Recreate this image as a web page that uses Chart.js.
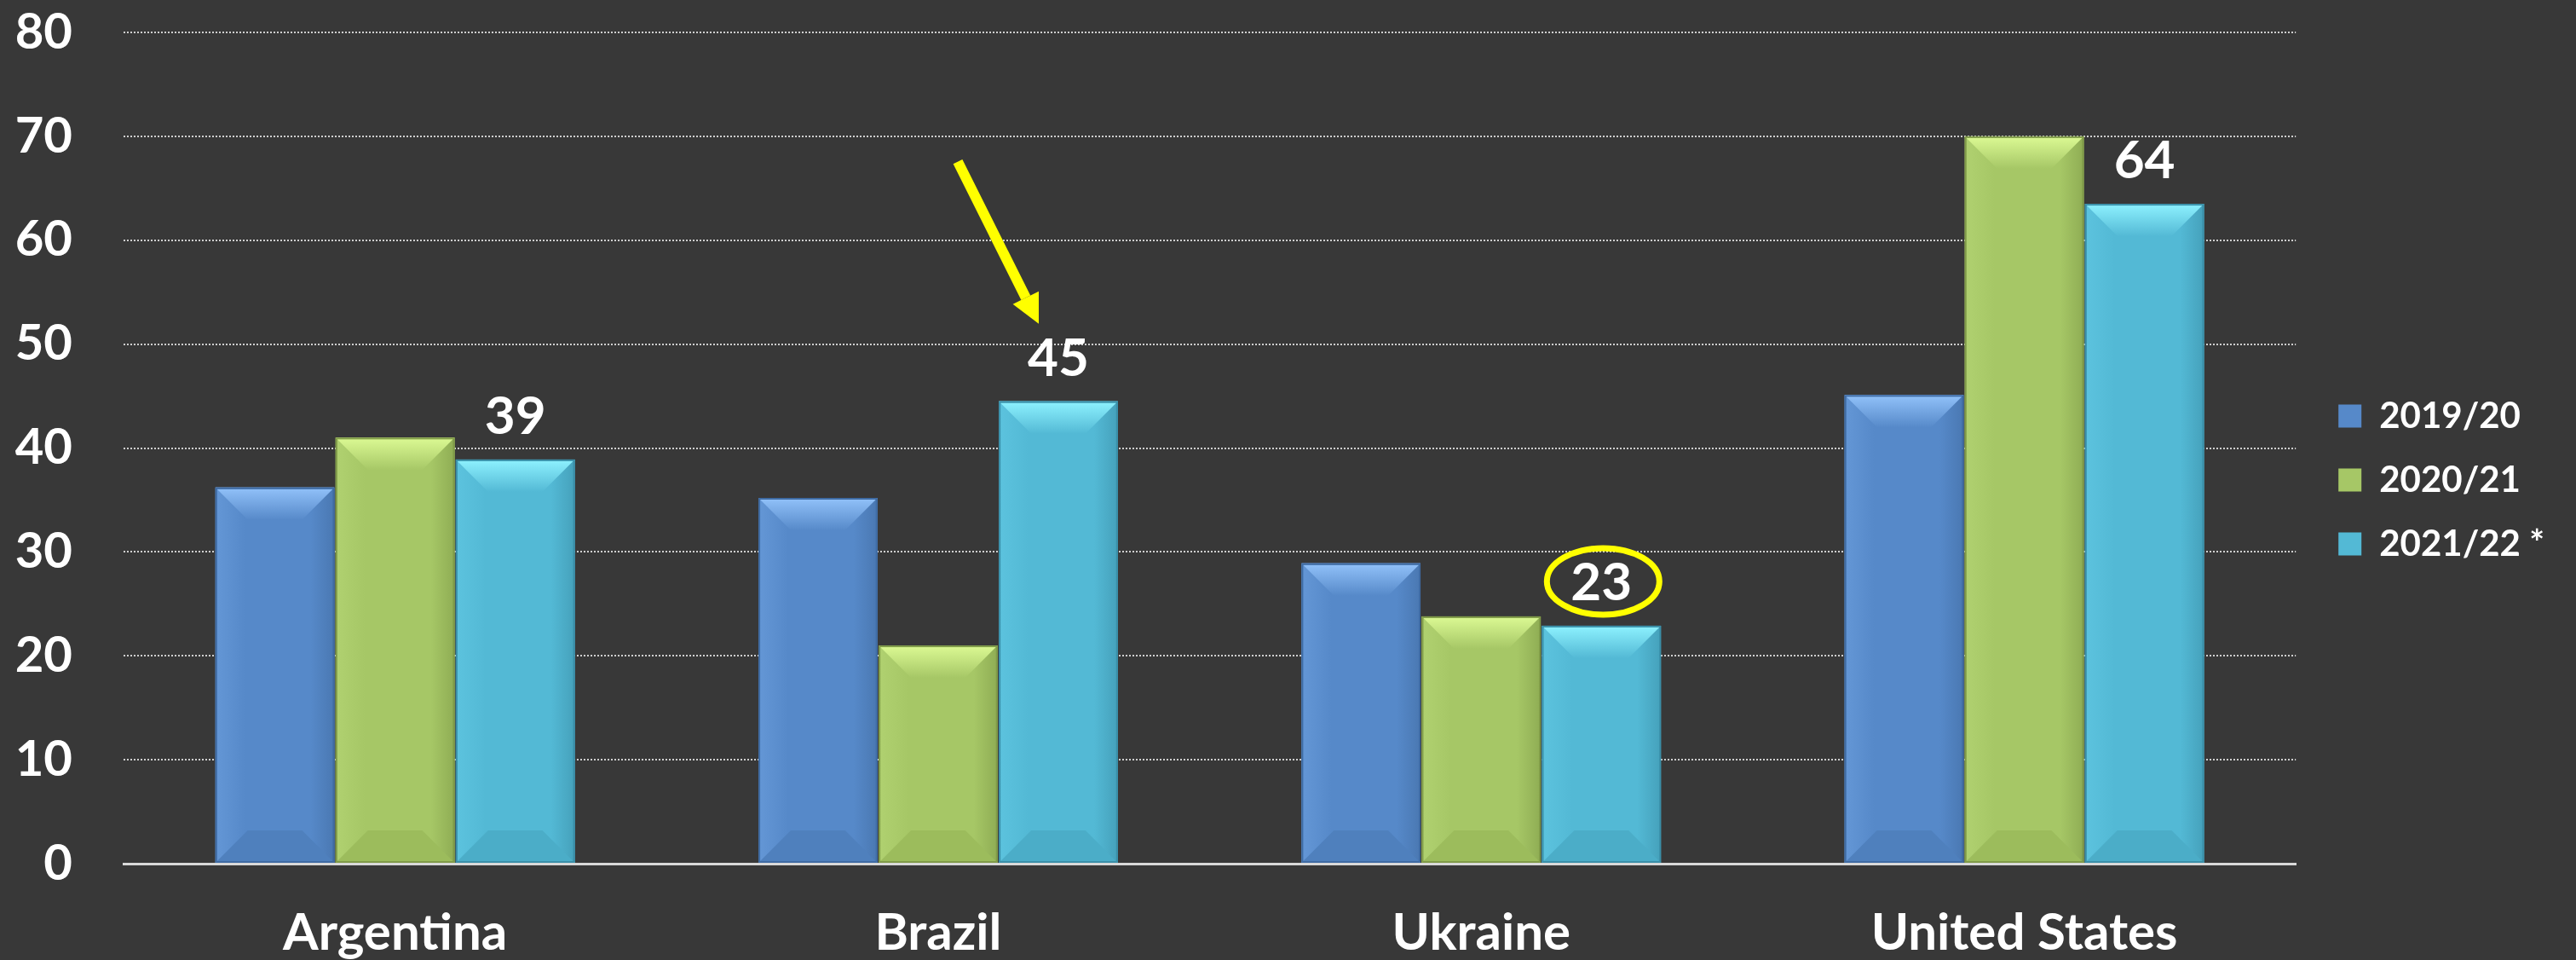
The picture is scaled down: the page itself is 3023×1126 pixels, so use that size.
<!DOCTYPE html>
<html>
<head>
<meta charset="utf-8">
<script src="https://cdn.jsdelivr.net/npm/chart.js@4.4.1/dist/chart.umd.min.js"></script>
<style>
  html, body { margin: 0; padding: 0; background: #383838; }
  canvas { display: block; }
</style>
</head>
<body>
<canvas id="chart-bars" width="3023" height="1126"></canvas>
<script>
const countries = ['Argentina', 'Brazil', 'Ukraine', 'United States'];
const seasons = ['2019/20', '2020/21', '2021/22 *'];
const y2019 = [36.2, 35.2, 28.9, 45.1];
const y2020 = [41.0, 21.0, 23.8, 70.0];
const y2021 = [38.9, 44.5, 22.9, 63.5];
const yTicks = [0, 10, 20, 30, 40, 50, 60, 70, 80];

const palettes = [
  { main: '#5689c9', light: '#6497d6', dark: '#4a78b2', top: '#92c2fa', bottom: '#4f80bd', edge: '#3f6ba3' },
  { main: '#a6c766', light: '#b0d170', dark: '#8fad54', top: '#dcfa94', bottom: '#9cbc5c', edge: '#7f9a48' },
  { main: '#53b9d5', light: '#5cc3de', dark: '#45a1bb', top: '#8ef2ff', bottom: '#4badc8', edge: '#3a8fa8' }
];

var FONT = 'Lato';

// pyramid bevel look on top of each bar
const bevel = {
  id: 'bevel',
  afterDatasetsDraw(chart) {
    const ctx = chart.ctx;
    chart.data.datasets.forEach((ds, i) => {
      const pal = palettes[i];
      chart.getDatasetMeta(i).data.forEach(bar => {
        const p = bar.getProps(['x', 'y', 'base', 'width'], true);
        const l = p.x - p.width / 2, r = p.x + p.width / 2, t = p.y, b = p.base;
        const w = p.width, h = b - t;
        const d = Math.min(38, w / 2, h / 2);
        ctx.save();
        let g = ctx.createLinearGradient(l, 0, r, 0);
        g.addColorStop(0, pal.light);
        g.addColorStop(0.25, pal.main);
        g.addColorStop(0.8, pal.main);
        g.addColorStop(1, pal.dark);
        ctx.fillStyle = g;
        ctx.fillRect(l, t, w, h);
        // top
        g = ctx.createLinearGradient(0, t, 0, t + d);
        g.addColorStop(0, pal.top);
        g.addColorStop(1, pal.main);
        ctx.fillStyle = g;
        ctx.beginPath();
        ctx.moveTo(l, t); ctx.lineTo(r, t); ctx.lineTo(r - d, t + d); ctx.lineTo(l + d, t + d);
        ctx.closePath(); ctx.fill();
        // bottom
        ctx.fillStyle = pal.bottom;
        ctx.beginPath();
        ctx.moveTo(l, b); ctx.lineTo(r, b); ctx.lineTo(r - d, b - d); ctx.lineTo(l + d, b - d);
        ctx.closePath(); ctx.fill();
        ctx.strokeStyle = pal.edge;
        ctx.lineWidth = 2;
        ctx.strokeRect(l + 1, t + 1, w - 2, h - 2);
        ctx.restore();
      });
    });
  }
};

// value labels on the last season + the yellow marks
const notes = {
  id: 'notes',
  afterDatasetsDraw(chart) {
    const ctx = chart.ctx;
    const meta = chart.getDatasetMeta(2);
    ctx.save();
    ctx.font = 'bold 62px ' + FONT;
    ctx.fillStyle = '#ffffff';
    ctx.textAlign = 'center';
    ctx.textBaseline = 'alphabetic';
    meta.data.forEach((bar, k) => {
      ctx.fillText(String(Math.round(y2021[k])), bar.x, bar.y - 30);
    });

    const uk = meta.data[countries.indexOf('Ukraine')];
    ctx.strokeStyle = '#ffff00';
    ctx.lineWidth = 7;
    ctx.beginPath();
    ctx.ellipse(uk.x + 2, uk.y - 52, 66, 39, 0, 0, Math.PI * 2);
    ctx.stroke();

    const br = meta.data[countries.indexOf('Brazil')];
    const tx = br.x - 23, ty = br.y - 91;
    const sx = br.x - 118, sy = br.y - 281;
    const len = Math.hypot(tx - sx, ty - sy);
    const ux = (tx - sx) / len, uy = (ty - sy) / len;
    const hx = tx - ux * 34, hy = ty - uy * 34;
    ctx.lineWidth = 12;
    ctx.beginPath();
    ctx.moveTo(sx, sy);
    ctx.lineTo(hx, hy);
    ctx.stroke();
    ctx.fillStyle = '#ffff00';
    ctx.beginPath();
    ctx.moveTo(tx, ty);
    ctx.lineTo(hx - uy * 17, hy + ux * 17);
    ctx.lineTo(hx + uy * 17, hy - ux * 17);
    ctx.closePath();
    ctx.fill();
    ctx.restore();
  }
};

// leave a bit more room between the plot and the legend
const legendGap = {
  id: 'legendGap',
  afterLayout(chart) {
    chart.legend.left += 17;
    chart.legend.right += 17;
  }
};

var ctx1 = document.getElementById('chart-bars').getContext('2d');
new Chart(ctx1, {
  type: 'bar',
  data: {
    labels: countries,
    datasets: [y2019, y2020, y2021].map((vals, i) => ({
      label: seasons[i],
      data: vals,
      backgroundColor: palettes[i].main,
      borderColor: palettes[i].edge,
      borderWidth: 0,
      categoryPercentage: 0.664,
      barPercentage: 0.99
    }))
  },
  options: {
    responsive: false,
    animation: false,
    devicePixelRatio: 1,
    layout: { padding: { left: 0, right: 44, top: 0, bottom: 0 } },
    plugins: {
      legend: {
        position: 'right',
        align: 'center',
        labels: {
          color: '#ffffff',
          boxWidth: 27,
          boxHeight: 27,
          padding: 33,
          font: { family: FONT, size: 42, weight: 'bold' }
        }
      },
      tooltip: { enabled: false }
    },
    scales: {
      y: {
        min: 0,
        max: 80,
        afterBuildTicks: axis => { axis.ticks = yTicks.map(v => ({ value: v })); },
        afterFit: axis => {
          axis.width = 145;
          axis.paddingTop = 38;
          axis.paddingBottom = 0;
        },
        grid: {
          color: '#cfcfcf',
          lineWidth: 2,
          drawTicks: false
        },
        border: { display: false, dash: [2, 2] },
        ticks: {
          color: '#ffffff',
          padding: 60,
          font: { family: FONT, size: 58, weight: 'bold' }
        }
      },
      x: {
        afterFit: axis => {
          axis.height = 113;
          axis.paddingLeft = 0;
          axis.paddingRight = 0;
        },
        grid: { display: false, drawTicks: false },
        border: { display: true, color: '#d9d9d9', width: 3 },
        ticks: {
          color: '#ffffff',
          padding: 46,
          font: { family: FONT, size: 60, weight: 'bold' }
        }
      }
    }
  },
  plugins: [bevel, notes, legendGap]
});
</script>
</body>
</html>
